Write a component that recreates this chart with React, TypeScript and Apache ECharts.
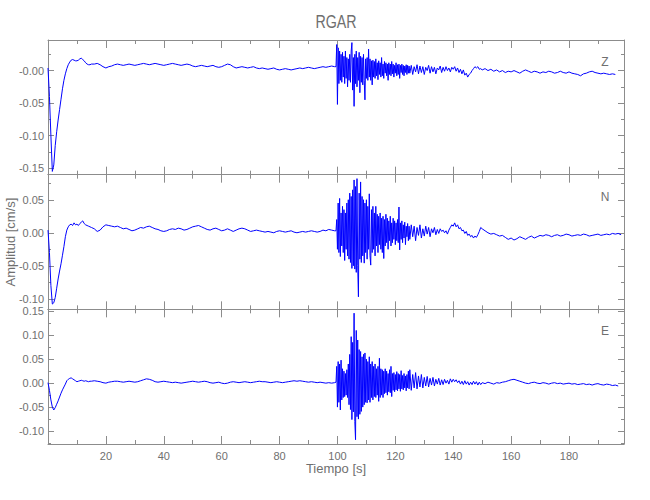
import React, { useEffect, useRef } from "react";
import * as echarts from "echarts";

// ---------- axes ----------
const TIME_MIN = 0;
const TIME_MAX = 199;
const xMajorTicks = [0, 20, 40, 60, 80, 100, 120, 140, 160, 180];
const xMinorTicks = [10, 30, 50, 70, 90, 110, 130, 150, 170, 190];
const xTickLabels = [20, 40, 60, 80, 100, 120, 140, 160, 180];

const zRange = [-0.16, 0.047];
const zMajorTicks = [0, -0.05, -0.1, -0.15];
const zTickLabels = ["-0.00", "-0.05", "-0.10", "-0.15"];
const zMinorTicks = [0.025, -0.025, -0.075, -0.125];

const nRange = [-0.116, 0.088];
const nMajorTicks = [0.05, 0, -0.05, -0.1];
const nTickLabels = ["0.05", "0.00", "-0.05", "-0.10"];
const nMinorTicks = [0.075, 0.025, -0.025, -0.075];

const eRange = [-0.127, 0.154];
const eMajorTicks = [0.15, 0.1, 0.05, 0, -0.05, -0.1];
const eTickLabels = ["0.15", "0.10", "0.05", "0.00", "-0.05", "-0.10"];
const eMinorTicks = [0.125, 0.075, 0.025, -0.025, -0.075, -0.125];

// ---------- sampling of the hand-read traces (seconds) ----------
const earlyStart = 0, earlyStep = 0.5;
const quietStart = 15, quietStep = 1;
const codaStart = 99.5, codaStep = 0.25;
const lateStart = 125, lateStep = 0.5;
const tailStart = 150, tailStep = 1;

// ---------- Z component (cm/s) ----------
const zEarly = [0.004, -0.04, -0.1, -0.155, -0.145, -0.115, -0.094, -0.076, -0.06, -0.044, -0.028, -0.015, -0.005, 0.003, 0.009, 0.013, 0.016, 0.017, 0.016, 0.015, 0.015, 0.016, 0.018, 0.019, 0.017, 0.015, 0.012, 0.01, 0.009, 0.009];
const zQuiet = [
  0.01, 0.01, 0.011, 0.009, 0.006, 0.004, 0.006, 0.007, 0.009, 0.01,
  0.009, 0.008, 0.009, 0.01, 0.009, 0.008, 0.009, 0.01, 0.011, 0.01,
  0.009, 0.01, 0.011, 0.01, 0.009, 0.008, 0.009, 0.01, 0.011, 0.01,
  0.009, 0.008, 0.009, 0.01, 0.009, 0.007, 0.006, 0.007, 0.008, 0.007,
  0.006, 0.007, 0.008, 0.006, 0.005, 0.006, 0.008, 0.01, 0.009, 0.006,
  0.004, 0.005, 0.006, 0.005, 0.004, 0.005, 0.006, 0.004, 0.003, 0.004,
  0.003, 0.002, 0.003, 0.004, 0.002, 0.001, 0.002, 0.003, 0.002, 0.001,
  0.002, 0.003, 0.004, 0.003, 0.004, 0.005, 0.004, 0.003, 0.004, 0.005,
  0.006, 0.005, 0.006, 0.007, 0.006,
];
const zCoda = [
  0.006, 0.04, -0.052, 0.035, -0.02, 0.03, -0.015, 0.025, -0.018, 0.028,
  -0.01, 0.022, -0.02, 0.03, -0.012, 0.02, -0.025, 0.018, -0.015, 0.025,
  -0.018, 0.03, 0.043, -0.03, 0.02, -0.055, 0.025, -0.02, 0.03, -0.025,
  0.02, -0.015, 0.028, -0.034, 0.022, -0.018, 0.02, -0.022, 0.025, -0.015,
  -0.045, 0.018, -0.012, 0.02, -0.015, 0.033, -0.01, 0.018, -0.015, 0.015,
  -0.022, 0.016, -0.01, 0.014, -0.012, 0.018, -0.008, 0.012, -0.014, 0.015,
  -0.006, 0.012, -0.01, 0.02, -0.008, 0.01, -0.012, 0.014, -0.004, 0.012,
  -0.008, 0.01, -0.015, 0.012, -0.006, 0.01, -0.008, 0.014, -0.005, 0.01,
  -0.01, 0.008, -0.004, 0.012, -0.008, 0.009, -0.006, 0.01, -0.012, 0.008,
  -0.003, 0.01, -0.006, 0.008, -0.008, 0.007, -0.003, 0.009, -0.006, 0.008,
  -0.004, 0.007,
];
const zLate = [
  -0.004, 0.008, -0.006, 0.006, -0.002, 0.009, -0.005, 0.007, -0.003, 0.006,
  -0.006, 0.005, 0.0, 0.008, -0.004, 0.006, -0.002, 0.005, -0.005, 0.004,
  0.001, 0.007, -0.003, 0.005, -0.001, 0.006, 0.0, 0.004, -0.002, 0.005,
  0.002, 0.006, -0.001, 0.004, -0.003, 0.002, -0.005, 0.001, -0.007, -0.004,
  -0.01, -0.006, -0.004, 0.0, 0.003, 0.006, 0.004, 0.006, 0.002, 0.003,
];
const zTail = [
  0.001, 0.003, 0.0, 0.002, -0.001, 0.001, -0.002, 0.0, -0.003, -0.001,
  -0.002, 0.0, -0.002, -0.004, -0.001, 0.001, -0.001, -0.003, -0.001, -0.002,
  -0.004, -0.002, -0.003, -0.001, -0.002, -0.004, -0.003, -0.001, -0.003, -0.004,
  -0.002, -0.004, -0.005, -0.006, -0.008, -0.005, -0.004, -0.002, -0.001, -0.003,
  -0.004, -0.005, -0.004, -0.005, -0.006, -0.005, -0.006,
];

// ---------- N component ----------
const nEarly = [0.004, -0.03, -0.08, -0.108, -0.106, -0.098, -0.084, -0.07, -0.058, -0.047, -0.034, -0.021, -0.006, 0.004, 0.009, 0.012, 0.013, 0.011, 0.015, 0.012, 0.013, 0.011, 0.014, 0.016, 0.018, 0.014, 0.012, 0.011, 0.01, 0.009];
const nQuiet = [
  0.008, 0.006, 0.002, 0.004, 0.009, 0.012, 0.011, 0.01, 0.009, 0.01,
  0.008, 0.006, 0.007, 0.005, 0.003, 0.004, 0.006, 0.008, 0.007, 0.009,
  0.01, 0.008, 0.006, 0.005, 0.003, 0.002, 0.003, 0.005, 0.006, 0.005,
  0.007, 0.006, 0.004, 0.005, 0.007, 0.009, 0.01, 0.011, 0.009, 0.007,
  0.005, 0.004, 0.006, 0.007, 0.005, 0.003, 0.004, 0.006, 0.004, 0.002,
  0.004, 0.006, 0.007, 0.006, 0.004, 0.002, 0.003, 0.004, 0.003, 0.002,
  0.001, 0.002, 0.001, 0.0, 0.002, 0.003, 0.002, 0.001, 0.002, 0.003,
  0.001, 0.0, 0.001, 0.002, 0.001, 0.002, 0.003, 0.002, 0.001, 0.002,
  0.004, 0.003, 0.005, 0.004, 0.003,
];
const nCoda = [
  0.003, 0.02, -0.025, 0.045, -0.03, 0.052, -0.036, 0.03, -0.02, 0.04,
  -0.03, 0.035, -0.042, 0.03, -0.025, 0.045, -0.035, 0.05, -0.04, 0.06,
  -0.045, 0.055, -0.054, 0.065, -0.05, 0.08, -0.055, 0.07, -0.06, 0.082,
  -0.05, -0.097, 0.06, -0.04, 0.077, -0.045, 0.055, -0.035, 0.05, -0.046,
  0.045, -0.03, 0.05, -0.04, 0.04, -0.025, 0.059, -0.035, -0.049, 0.035,
  -0.03, 0.04, -0.025, 0.03, -0.035, 0.04, -0.02, 0.028, -0.03, 0.025,
  -0.018, 0.03, -0.025, 0.022, -0.03, 0.025, -0.039, 0.02, -0.02, 0.028,
  -0.015, 0.022, -0.025, 0.018, -0.012, 0.025, -0.02, 0.015, -0.015, 0.022,
  -0.01, 0.018, -0.018, 0.015, -0.012, 0.02, -0.015, 0.039, -0.026, 0.015,
  -0.01, 0.018, -0.015, 0.012, -0.008, 0.016, -0.018, 0.01, -0.006, 0.014,
  -0.012, 0.01,
];
const nLate = [
  -0.01, 0.012, -0.006, 0.01, -0.012, 0.008, -0.004, 0.012, -0.008, 0.006,
  -0.005, 0.01, -0.002, 0.008, -0.006, 0.006, 0.0, 0.008, -0.003, 0.005,
  -0.001, 0.006, 0.002, 0.004, 0.0, 0.003, -0.002, 0.004, 0.008, 0.012,
  0.01, 0.015, 0.009, 0.012, 0.006, 0.008, 0.003, 0.004, -0.001, 0.002,
  -0.004, -0.002, -0.006, -0.004, -0.008, -0.005, -0.007, -0.003, 0.002, 0.008,
];
const nTail = [
  0.006, 0.003, 0.0, -0.002, -0.001, -0.003, -0.005, -0.004, -0.007, -0.01,
  -0.008, -0.011, -0.009, -0.006, -0.008, -0.01, -0.007, -0.005, -0.008, -0.006,
  -0.004, -0.005, -0.003, -0.004, -0.006, -0.004, -0.003, -0.005, -0.004, -0.002,
  -0.003, -0.005, -0.004, -0.003, -0.004, -0.002, -0.003, -0.005, -0.004, -0.003,
  -0.002, -0.004, -0.003, -0.002, -0.003, -0.001, -0.002, -0.001, -0.003,
];

// ---------- E component ----------
const eEarly = [0.001, -0.015, -0.035, -0.05, -0.056, -0.051, -0.044, -0.037, -0.029, -0.021, -0.014, -0.008, -0.002, 0.005, 0.008, 0.01, 0.011, 0.009, 0.007, 0.005, 0.003, 0.004, 0.005, 0.006, 0.005, 0.004, 0.005, 0.004, 0.003, 0.004];
const eQuiet = [
  0.004, 0.005, 0.004, 0.003, 0.001, 0.0, 0.002, 0.003, 0.004, 0.004,
  0.003, 0.002, 0.003, 0.004, 0.003, 0.002, 0.003, 0.005, 0.007, 0.009,
  0.008, 0.006, 0.003, 0.002, 0.003, 0.004, 0.003, 0.002, 0.001, 0.002,
  0.001, 0.0, 0.001, 0.002, 0.003, 0.004, 0.003, 0.002, 0.003, 0.004,
  0.003, 0.001, 0.0, 0.001, 0.002, 0.0, -0.001, 0.0, 0.002, 0.003,
  0.002, 0.001, 0.002, 0.003, 0.002, 0.001, 0.002, 0.003, 0.004, 0.003,
  0.003, 0.002, 0.001, 0.002, 0.003, 0.002, 0.001, 0.002, 0.003, 0.004,
  0.005, 0.004, 0.005, 0.004, 0.003, 0.002, 0.003, 0.002, 0.001, 0.002,
  0.001, 0.0, 0.001, 0.0, 0.001,
];
const eCoda = [
  0.002, 0.035, -0.05, 0.045, -0.04, 0.04, -0.056, 0.048, -0.035, 0.03,
  -0.03, 0.025, -0.028, 0.02, -0.025, 0.028, -0.03, 0.04, -0.045, 0.06,
  -0.055, 0.097, -0.076, 0.085, -0.06, 0.146, -0.08, -0.118, 0.11, -0.07,
  0.09, -0.075, 0.07, -0.065, 0.066, -0.059, 0.055, -0.05, 0.06, -0.045,
  0.063, -0.04, 0.05, -0.041, 0.045, -0.035, 0.055, -0.04, 0.04, -0.03,
  0.045, -0.035, 0.035, -0.028, 0.04, -0.03, 0.03, -0.025, 0.035, -0.038,
  0.052, -0.03, 0.03, -0.025, 0.028, -0.03, 0.025, -0.022, 0.03, -0.02,
  0.025, -0.025, 0.02, -0.018, 0.028, -0.02, 0.035, -0.028, 0.02, -0.015,
  0.022, -0.018, 0.018, -0.014, 0.024, -0.016, 0.02, -0.012, 0.018, -0.017,
  0.026, -0.012, 0.016, -0.014, 0.02, -0.01, 0.015, -0.016, 0.018, -0.01,
  0.025, -0.012,
];
const eLate = [
  0.028, -0.015, 0.018, -0.01, 0.022, -0.012, 0.015, -0.008, 0.018, -0.01,
  0.012, -0.006, 0.014, -0.008, 0.01, -0.004, 0.012, -0.006, 0.008, -0.002,
  0.01, -0.004, 0.007, -0.003, 0.008, 0.0, 0.006, -0.002, 0.009, 0.002,
  0.008, 0.003, 0.007, 0.001, 0.005, -0.002, 0.004, -0.003, 0.005, -0.002,
  0.003, -0.004, 0.002, -0.003, 0.004, -0.002, 0.003, -0.004, 0.002, -0.003,
];
const eTail = [
  0.001, -0.001, 0.002, 0.0, -0.002, 0.001, 0.0, 0.002, 0.003, 0.005,
  0.007, 0.008, 0.006, 0.004, 0.002, 0.0, -0.001, 0.001, 0.002, 0.0,
  -0.001, 0.001, 0.0, -0.002, 0.0, 0.001, -0.001, 0.0, -0.002, -0.001,
  0.0, -0.002, -0.001, -0.003, -0.002, -0.001, -0.003, -0.002, -0.004, -0.002,
  -0.001, -0.003, -0.004, -0.002, -0.003, -0.005, -0.004, -0.006,
];

const panelNames = ["Z", "N", "E"];

// ---------- styling ----------
const FONT = "Liberation Sans";
const TEXT = "#6f6f6f";
const AXIS = "#8c8c8c";
const TRACE = "#0000ff";

type Seg = { start: number; step: number; values: number[] };

function toPoints(segs: Seg[]): [number, number][] {
  const out: [number, number][] = [];
  segs.forEach((s) => {
    s.values.forEach((v, i) => out.push([+(s.start + i * s.step).toFixed(3), v]));
  });
  return out;
}

function trace(early: number[], quiet: number[], coda: number[], late: number[], tail: number[]) {
  return toPoints([
    { start: earlyStart, step: earlyStep, values: early },
    { start: quietStart, step: quietStep, values: quiet },
    { start: codaStart, step: codaStep, values: coda },
    { start: lateStart, step: lateStep, values: late },
    { start: tailStart, step: tailStep, values: tail },
  ]);
}

const GRID_LEFT = 48;
const GRID_RIGHT = 26;
const GRID_TOP = 40;
const PANEL_H = 134.67;

function xAxesFor(grid: number, bottomLabels: boolean) {
  const base = {
    gridIndex: grid,
    type: "value",
    min: TIME_MIN,
    max: TIME_MAX,
    splitLine: { show: false },
  };
  const tickStyle = { color: AXIS, width: 1 };
  const major = (position: string, withLabels: boolean) => ({
    ...base,
    position,
    axisLine: { show: true, onZero: false, lineStyle: { color: AXIS, width: 1 } },
    axisTick: { show: true, inside: true, length: 8, customValues: xMajorTicks, lineStyle: tickStyle },
    axisLabel: withLabels
      ? { show: true, customValues: xTickLabels, margin: 6, color: TEXT, fontSize: 11, fontFamily: FONT }
      : { show: false },
    ...(withLabels
      ? {
          name: "Tiempo [s]",
          nameLocation: "middle",
          nameGap: 18,
          nameMoveOverlap: false,
          nameTextStyle: { color: TEXT, fontSize: 13, fontFamily: FONT },
        }
      : {}),
  });
  const minor = (position: string) => ({
    ...base,
    position,
    axisLine: { show: false, onZero: false },
    axisTick: { show: true, inside: true, length: 4, customValues: xMinorTicks, lineStyle: tickStyle },
    axisLabel: { show: false },
  });
  return [major("bottom", bottomLabels), minor("bottom"), major("top", false), minor("top")];
}

function yAxesFor(
  grid: number,
  range: number[],
  majors: number[],
  labels: string[],
  minors: number[],
  name?: string
) {
  const base = {
    gridIndex: grid,
    type: "value",
    min: range[0],
    max: range[1],
    splitLine: { show: false },
  };
  const tickStyle = { color: AXIS, width: 1 };
  const fmt = (v: number) => {
    let best = 0;
    majors.forEach((m, i) => {
      if (Math.abs(m - v) < Math.abs(majors[best] - v)) best = i;
    });
    return labels[best];
  };
  const major = (position: string, withLabels: boolean) => ({
    ...base,
    position,
    axisLine: { show: true, onZero: false, lineStyle: { color: AXIS, width: 1 } },
    axisTick: { show: true, inside: true, length: 6, customValues: majors, lineStyle: tickStyle },
    axisLabel: withLabels
      ? { show: true, customValues: majors, formatter: fmt, margin: 4, color: TEXT, fontSize: 11, fontFamily: FONT }
      : { show: false },
    ...(withLabels && name
      ? {
          name,
          nameLocation: "middle",
          nameGap: 31,
          nameRotate: 90,
          nameMoveOverlap: false,
          nameTextStyle: { color: TEXT, fontSize: 13, fontFamily: FONT },
        }
      : {}),
  });
  const minor = (position: string) => ({
    ...base,
    position,
    axisLine: { show: false, onZero: false },
    axisTick: { show: true, inside: true, length: 3, customValues: minors, lineStyle: tickStyle },
    axisLabel: { show: false },
  });
  return [major("left", true), minor("left"), major("right", false), minor("right")];
}

export default function App() {
  const ref = useRef<HTMLDivElement>(null);

  useEffect(() => {
    if (!ref.current) return;
    const chart = echarts.init(ref.current, undefined, { renderer: "svg" });

    const traces = [
      trace(zEarly, zQuiet, zCoda, zLate, zTail),
      trace(nEarly, nQuiet, nCoda, nLate, nTail),
      trace(eEarly, eQuiet, eCoda, eLate, eTail),
    ];

    const grids = [0, 1, 2].map((i) => ({
      left: GRID_LEFT,
      right: GRID_RIGHT,
      top: GRID_TOP + i * PANEL_H,
      height: PANEL_H,
      containLabel: false,
      outerBoundsMode: "none",
    }));

    const xAxis = [...xAxesFor(0, false), ...xAxesFor(1, false), ...xAxesFor(2, true)];
    const yAxis = [
      ...yAxesFor(0, zRange, zMajorTicks, zTickLabels, zMinorTicks),
      ...yAxesFor(1, nRange, nMajorTicks, nTickLabels, nMinorTicks, "Amplitud [cm/s]"),
      ...yAxesFor(2, eRange, eMajorTicks, eTickLabels, eMinorTicks),
    ];

    const series = traces.map((data, i) => ({
      type: "line",
      name: panelNames[i],
      xAxisIndex: i * 4,
      yAxisIndex: i * 4,
      data,
      showSymbol: false,
      symbol: "none",
      lineStyle: { color: TRACE, width: 1 },
      itemStyle: { color: TRACE },
      clip: true,
      silent: true,
    }));

    const graphic = [
      {
        type: "text",
        x: 336,
        y: 22,
        scaleX: 0.75,
        style: {
          text: "RGAR",
          fill: TEXT,
          font: `normal 19px ${FONT}`,
          textAlign: "center",
          textVerticalAlign: "middle",
        },
      },
      ...panelNames.map((p, i) => ({
        type: "text",
        x: 605,
        y: GRID_TOP + i * PANEL_H + 22,
        style: {
          text: p,
          fill: TEXT,
          font: `normal 12px ${FONT}`,
          textAlign: "center",
          textVerticalAlign: "middle",
        },
      })),
    ];

    chart.setOption({
      animation: false,
      backgroundColor: "#ffffff",
      grid: grids,
      xAxis,
      yAxis,
      series,
      graphic,
    } as any);

    return () => chart.dispose();
  }, []);

  return (
    <div
      ref={ref}
      style={{ position: "fixed", left: 0, top: 0, width: 650, height: 500, background: "#ffffff" }}
    />
  );
}
